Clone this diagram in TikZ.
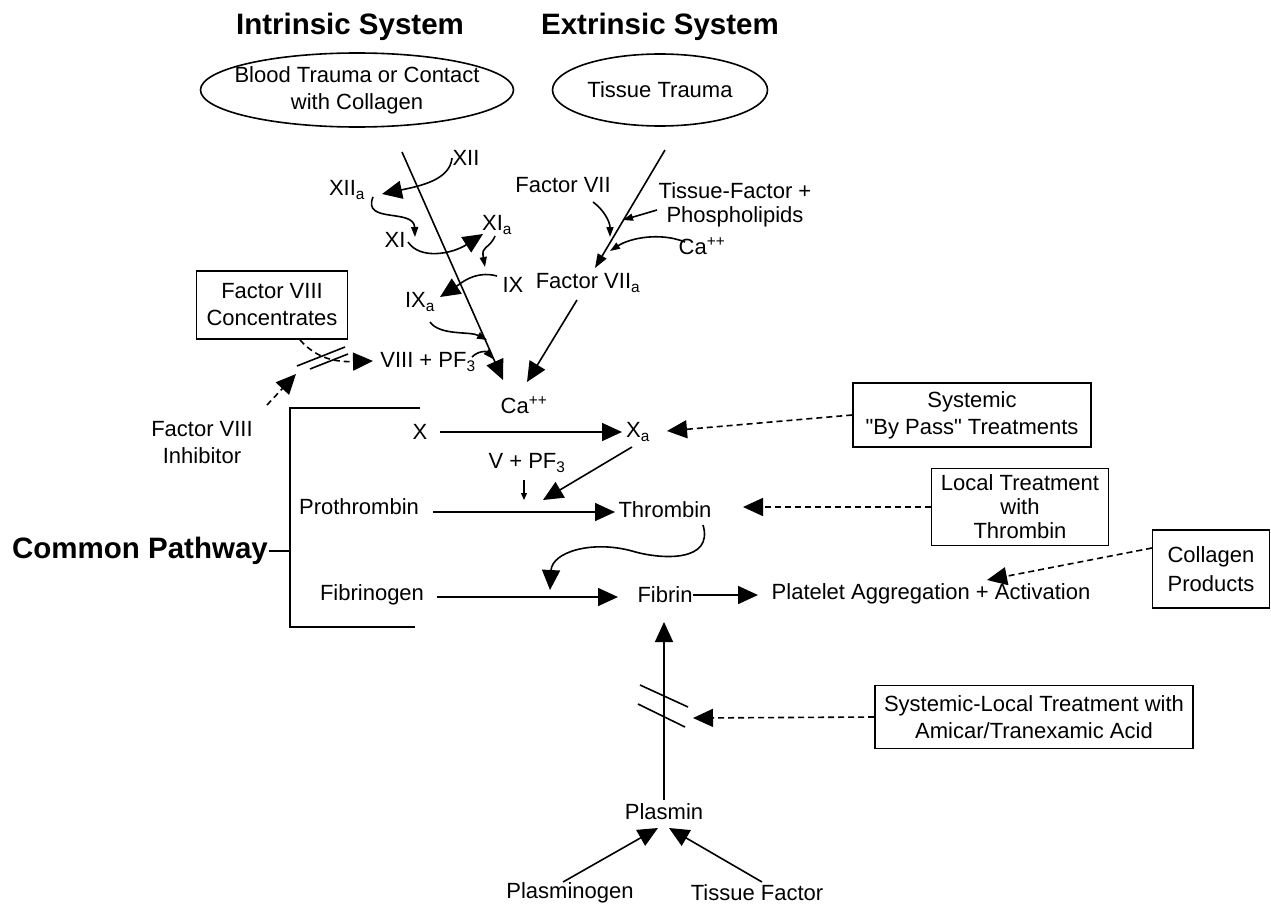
\documentclass[tikz,border=0pt]{standalone}
\usepackage{fontspec}
\setmainfont{Liberation Sans}
\newfontfamily\qf{Liberation Sans}[Ligatures=TeXOff]
\usetikzlibrary{arrows.meta,shapes.geometric}
\newcommand\fsz{\fontsize{22}{27}\selectfont}
\newcommand\fbz{\fontsize{29.5}{34}\selectfont\bfseries}
\begin{document}
\begin{tikzpicture}[x=1pt,y=-1pt, line width=1.6pt,
 lbl/.style={font=\fsz, inner sep=0pt, align=center},
 ttl/.style={font=\fbz, inner sep=0pt},
 box/.style={draw, font=\fsz, inner sep=0pt, align=center},
 big/.style={-{Triangle[length=20pt,width=18pt]}},
 med/.style={-{Triangle[length=14pt,width=10pt]}},
 sml/.style={-{Triangle[length=10pt,width=7pt]}},
 dsh/.style={dash pattern=on 6pt off 4pt}]
\useasboundingbox (0,0) rectangle (1271,907);

% titles
\node[ttl] (tin) at (350,27) {Intrinsic System};
\node[ttl] (tex) at (660,27) {Extrinsic System};
\node[ttl] (tcp) at (140,551) {Common Pathway};

% ellipses
\node[draw, ellipse, minimum width=313pt, minimum height=74pt, inner sep=0pt] (e1) at (357,90) {};
\node[lbl] (e1t) at (e1) {Blood Trauma or Contact\\with Collagen};
\node[draw, ellipse, minimum width=215pt, minimum height=72pt, inner sep=0pt] (e2) at (660,90) {};
\node[lbl] (e2t) at (e2) {Tissue Trauma};

% intrinsic labels
\node[lbl] (xii) at (466,158) {XII};
\node[lbl] (xiia) at (347,190) {XII\textsubscript{a}};
\node[lbl] (xi) at (395,240) {XI};
\node[lbl] (xia) at (497,225) {XI\textsubscript{a}};
\node[lbl] (ix) at (513,285) {IX};
\node[lbl] (ixa) at (420,302) {IX\textsubscript{a}};
\node[lbl] (viii) at (428,362) {VIII + PF\textsubscript{3}};
\node[lbl] (ca1) at (524,405) {Ca\textsuperscript{++}};

% extrinsic labels
\node[lbl] (f7) at (563,185) {Factor VII};
\node[lbl] (tf) at (735,205) {Tissue-Factor +\\[-3pt]Phospholipids};
\node[lbl] (ca2) at (702,246) {Ca\textsuperscript{++}};
\node[lbl] (f7a) at (588,283) {Factor VII\textsubscript{a}};

% intrinsic main line
\coordinate (ia) at (402,152);
\coordinate (ib) at (503,380);
\draw[big] (ia) -- (ib);
% extrinsic line
\coordinate (ea) at (665,150);
\coordinate (eb) at (595,268);
\draw[med] (ea) -- (eb);
\coordinate (fa) at (577,300);
\coordinate (fb) at (527,382);
\draw[big] (fa) -- (fb);

% cascade curves
\coordinate (c1) at (382,194);
\draw[big] (452,158) .. controls (450,180) and (420,186) .. (c1);
\coordinate (c2) at (415,237);
\draw[sml] (373,197) .. controls (362,224) and (414,208) .. (c2);
\coordinate (c3) at (483,234);
\draw[big] (408,242) .. controls (420,260) and (452,254) .. (c3);
\coordinate (c4) at (485,267);
\draw[sml] (495,236) .. controls (489,250) and (481,245) .. (c4);
\coordinate (c5) at (440,297);
\draw[big] (497,276) .. controls (475,270) and (460,284) .. (c5);
\coordinate (c6) at (487,340);
\draw[sml] (430,322) .. controls (440,336) and (470,331) .. (c6);
\coordinate (c7) at (493,359);
\draw[sml] (472,357) .. controls (478,351) and (486,351) .. (c7);

% extrinsic small arrows
\coordinate (d1) at (610,237);
\draw[sml] (593,202) .. controls (604,210) and (610,222) .. (d1);
\coordinate (d2) at (623,220);
\draw[sml] (657,210) -- (d2);
\coordinate (d3) at (610,251);
\draw[sml] (685,242) .. controls (660,232) and (630,238) .. (d3);

% Factor VIII concentrates
\node[box, minimum width=151pt, minimum height=68pt] (f8c) at (272,305) {Factor VIII\\Concentrates};
\coordinate (g1) at (373,361);
\draw[big, dsh] (300,340) .. controls (318,360) and (338,362) .. (g1);
\draw (297,366) -- (345,347);
\draw (310,369) -- (348,354);
\node[lbl] (f8i) at (202,443) {Factor VIII\\Inhibitor};
\coordinate (g2) at (296,374);
\draw[big, dsh] (267,405) -- (g2);

% bracket
\draw (420,408) -- (290,408) -- (290,627) -- (415,627);
\draw (tcp.east) -- (290,551);

% common pathway
\node[lbl] (x) at (420,432) {X};
\node[lbl] (xa) at (638,432) {X\textsubscript{a}};
\draw[big] (440,432) -- (622,432);
\node[box, minimum width=238pt, minimum height=64pt] (sys) at (972,415) {Systemic\\{\qf"}By Pass{\qf"} Treatments};
\draw[big, dsh] (sys.west) -- (667,431);

\node[lbl] (v) at (527,463) {V + PF\textsubscript{3}};
\draw[-{Triangle[length=7pt,width=6pt]}, line width=1.2pt] (524,480) -- (524,500);
\draw[big] (632,447) -- (543,500);

\node[lbl] (pro) at (359,507) {Prothrombin};
\node[lbl] (thr) at (665,510) {Thrombin};
\draw[big] (433,512) -- (615,512);
\node[box, minimum width=177pt, minimum height=77pt, font=\fontsize{22}{24}\selectfont] (loc) at (1020,507) {Local Treatment\\with\\Thrombin};
\draw[big, dsh] (loc.west) -- (743,507);

\coordinate (h1) at (550,590);
\draw[big] (703,525) .. controls (714,562) and (662,560) .. (632,551) .. controls (592,540) and (552,552) .. (h1);

\node[lbl] (fbg) at (372,595) {Fibrinogen};
\node[lbl] (fib) at (665,595) {Fibrin};
\draw[big] (437,597) -- (618,597);
\node[lbl] (plt) at (931,594) {Platelet Aggregation + Activation};
\draw[big] (fib.east) -- (758,595);
\node[box, minimum width=117pt, minimum height=78pt, font=\fontsize{22}{29}\selectfont] (col) at (1211,569) {Collagen\\Products};
\draw[big, dsh] (1152,548) -- (987,580);

% fibrinolysis
\node[lbl] (pls) at (664,812) {Plasmin};
\draw[big] (664,800) -- (664,622);
\draw (640,685) -- (688,707);
\draw (638,704) -- (685,727);
\node[box, minimum width=318pt, minimum height=63pt] (ami) at (1034,717) {Systemic-Local Treatment with\\Amicar/Tranexamic Acid};
\draw[big, dsh] (ami.west) -- (693,718);
\node[lbl] (plg) at (570,893) {Plasminogen};
\node[lbl] (tis) at (757,893) {Tissue Factor};
\draw[big] (563,882) -- (658,828);
\draw[big] (762,882) -- (669,828);
\end{tikzpicture}
\end{document}
